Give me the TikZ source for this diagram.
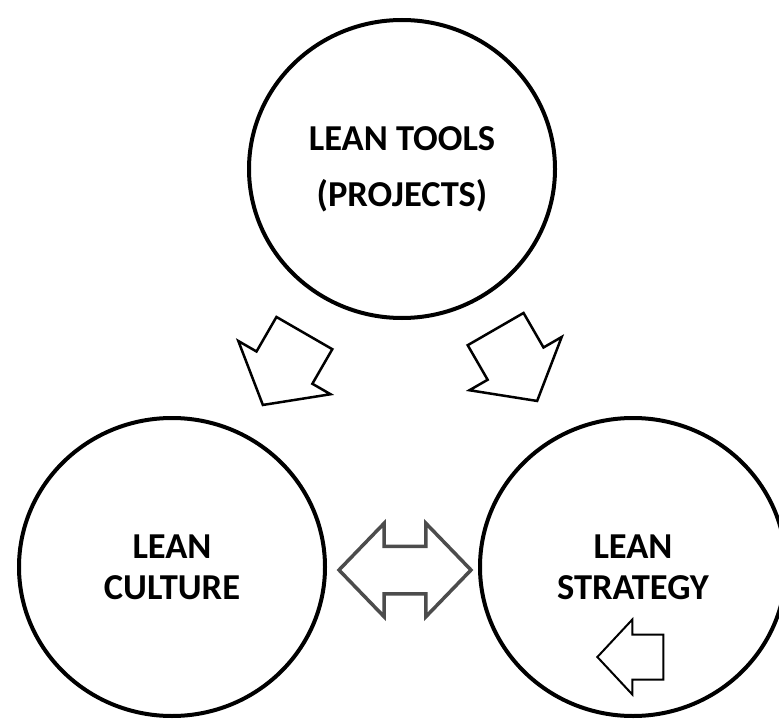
\documentclass[tikz,border=0pt]{standalone}
\usepackage{fontspec}
\setmainfont{Carlito}
\usetikzlibrary{shapes.geometric,shapes.arrows}

\tikzset{
	lean/.style={draw,ellipse,line width=4pt,minimum width=306pt,minimum height=298pt,
		inner sep=0pt,align=center,font=\fontsize{36.5}{41}\selectfont\bfseries},
	push/.style={draw,single arrow,line width=2.5pt,inner xsep=0pt,inner ysep=31pt,
		minimum height=83pt,minimum width=105pt,single arrow head extend=21pt,
		single arrow tip angle=102},
}

\begin{document}
\begin{tikzpicture}[x=1pt,y=-1pt]
	\useasboundingbox (0,0) rectangle (779,722);
	\node[lean] (tools) at (402,169) {LEAN TOOLS\\[15pt](PROJECTS)};
	\node[lean] (culture) at (172,567) {LEAN\\CULTURE};
	\node[lean] (strategy) at (633,567) {LEAN\\STRATEGY};
	% block arrows from the tools down to the two lower circles
	\node[push,rotate=240,anchor=tail] (toculture) at (305,332) {};
	\node[push,rotate=300,anchor=tail] (tostrategy) at (495,328) {};
	% two-way arrow between culture and strategy
	\node[draw=black!70,line width=3.5pt,double arrow,inner xsep=0pt,inner ysep=22pt,
		minimum height=132pt,minimum width=90pt,double arrow head extend=23pt,
		double arrow tip angle=92] (link) at (405,570) {};
	\node[draw,single arrow,line width=2pt,inner xsep=0pt,inner ysep=21.5pt,rotate=180,anchor=tip,
		minimum height=66pt,minimum width=73pt,single arrow head extend=15pt,
		single arrow tip angle=94] (back) at (596,657) {};
\end{tikzpicture}
\end{document}
